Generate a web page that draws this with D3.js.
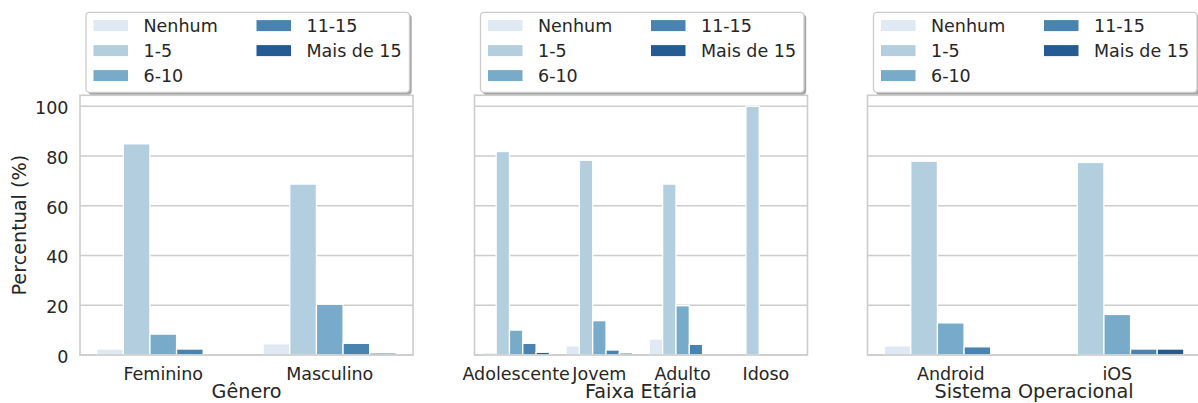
<!DOCTYPE html>
<html>
<head>
<meta charset="utf-8">
<script src="https://cdn.jsdelivr.net/npm/d3@7"></script>
<style>
  html, body { margin: 0; padding: 0; background: #fff; }
  svg { display: block; font-family: "DejaVu Sans", sans-serif; }
</style>
</head>
<body>
<svg id="chart" width="1198" height="403"></svg>
<script>
// ---- data ----
const seriesNames = ["Nenhum", "1-5", "6-10", "11-15", "Mais de 15"];
const seriesColors = ["#dee9f3", "#b2cedf", "#78abc9", "#4884af", "#235b92"];

const generoCats = ["Feminino", "Masculino"];
const generoValues = [
  [2.4, 84.9, 8.4, 2.4, 0.0],
  [4.5, 68.7, 20.4, 4.7, 0.8]
];

const faixaCats = ["Adolescente", "Jovem", "Adulto", "Idoso"];
const faixaValues = [
  [0.9, 81.8, 10.0, 4.7, 1.1],
  [3.7, 78.3, 13.8, 2.0, 0.8],
  [6.4, 68.7, 19.8, 4.3, 0.0],
  [0.0, 100.0, 0.0, 0.0, 0.0]
];

const soCats = ["Android", "iOS"];
const soValues = [
  [3.7, 77.9, 12.9, 3.3, 0.0],
  [0.0, 77.4, 16.3, 2.4, 2.4]
];

const yTicks = [0, 20, 40, 60, 80, 100];
const yLabel = "Percentual (%)";
const panelTitles = ["Gênero", "Faixa Etária", "Sistema Operacional"];

// ---- layout ----
const svg = d3.select("#chart");
const textColor = "#262626";
const gridColor = "#cccccc";
const panelLefts = [80, 474.5, 867.5];
const panelWidth = 333;
const axTop = 95.3, axBottom = 355;

const y = d3.scaleLinear().domain([0, 104.4]).range([axBottom, axTop]);

const panels = [
  { cats: generoCats, values: generoValues, title: panelTitles[0] },
  { cats: faixaCats, values: faixaValues, title: panelTitles[1] },
  { cats: soCats, values: soValues, title: panelTitles[2] }
];

panels.forEach((p, pi) => {
  const left = panelLefts[pi];
  const g = svg.append("g");

  const x = d3.scaleBand().domain(p.cats).range([left, left + panelWidth]).padding(0);
  const bw = x.bandwidth();
  const xs = d3.scaleBand().domain(seriesNames).range([-0.4 * bw, 0.4 * bw]).padding(0);

  // grid
  g.selectAll("line.grid").data(yTicks).join("line")
    .attr("x1", left).attr("x2", left + panelWidth)
    .attr("y1", d => y(d)).attr("y2", d => y(d))
    .attr("stroke", gridColor).attr("stroke-width", 1.3);

  // bars
  p.cats.forEach((c, ci) => {
    const cx = x(c) + bw / 2;
    g.selectAll(null).data(p.values[ci]).join("rect")
      .attr("x", (d, i) => cx + xs(seriesNames[i]))
      .attr("width", xs.bandwidth())
      .attr("y", d => y(d))
      .attr("height", d => y(0) - y(d))
      .attr("fill", (d, i) => seriesColors[i])
      .attr("stroke", "#ffffff").attr("stroke-width", 1.3);
  });

  // frame (spines)
  g.append("rect")
    .attr("x", left).attr("y", axTop)
    .attr("width", panelWidth).attr("height", axBottom - axTop)
    .attr("fill", "none").attr("stroke", gridColor).attr("stroke-width", 1.6);

  // x tick labels
  g.selectAll("text.xt").data(p.cats).join("text")
    .attr("x", d => x(d) + bw / 2).attr("y", 379.5)
    .attr("text-anchor", "middle").attr("fill", textColor)
    .attr("font-size", "17.5px").text(d => d);

  // x axis title
  g.append("text")
    .attr("x", left + panelWidth / 2).attr("y", 398.3)
    .attr("text-anchor", "middle").attr("fill", textColor)
    .attr("font-size", "19.2px").text(p.title);

  // y tick labels on first panel
  if (pi === 0) {
    g.selectAll("text.yt").data(yTicks).join("text")
      .attr("x", 68.5).attr("y", d => y(d) + 7.8)
      .attr("text-anchor", "end").attr("fill", textColor)
      .attr("font-size", "17.5px").text(d => d);
    g.append("text")
      .attr("transform", `translate(26,${(axTop + axBottom) / 2}) rotate(-90)`)
      .attr("text-anchor", "middle").attr("fill", textColor)
      .attr("font-size", "19.2px").text(yLabel);
  }

  // legend
  const lx = left + 6, ly = 12.3, lw = 323.5, lh = 80;
  const lg = svg.append("g");
  lg.append("rect")
    .attr("x", lx + 2.2).attr("y", ly + 2.2).attr("width", lw).attr("height", lh)
    .attr("rx", 3.5).attr("fill", "#4d4d4d").attr("opacity", 0.5);
  lg.append("rect")
    .attr("x", lx).attr("y", ly).attr("width", lw).attr("height", lh)
    .attr("rx", 3.5).attr("fill", "#ffffff").attr("stroke", gridColor).attr("stroke-width", 1.3);
  seriesNames.forEach((s, i) => {
    const col = i < 3 ? 0 : 1;
    const row = i < 3 ? i : i - 3;
    const px = lx + 7.5 + col * 163;
    const py = ly + 7.8 + row * 25;
    lg.append("rect")
      .attr("x", px).attr("y", py).attr("width", 34.5).attr("height", 11)
      .attr("fill", seriesColors[i]);
    lg.append("text")
      .attr("x", px + 50).attr("y", py + 12.2)
      .attr("fill", textColor).attr("font-size", "17.5px").text(s);
  });
});
</script>
</body>
</html>
